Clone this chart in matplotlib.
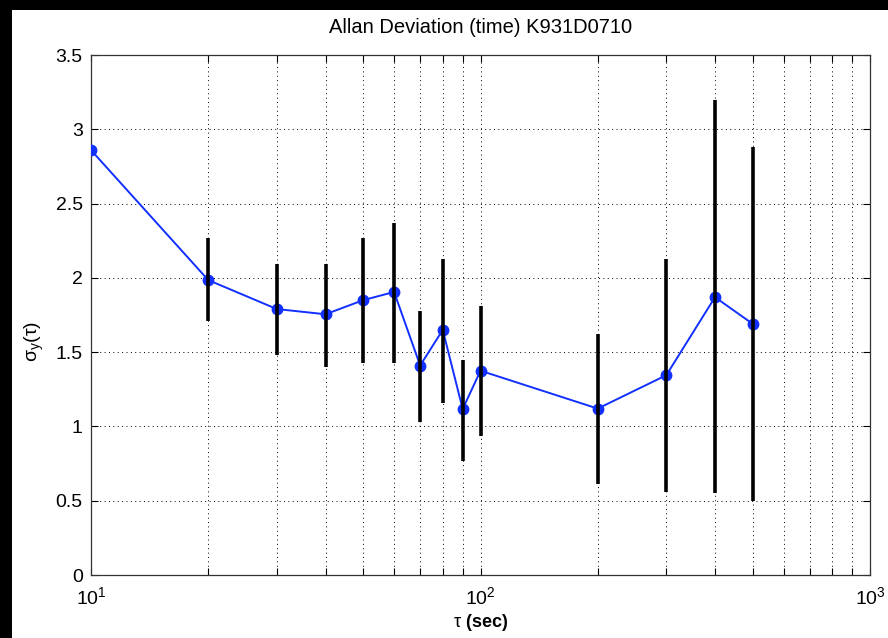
"""Allan deviation plot with error bars (log x axis)"""
import matplotlib
matplotlib.use("Agg")
from matplotlib import pyplot as plt
from matplotlib.patches import Rectangle

plt.rcParams["font.family"] = ["Liberation Sans", "DejaVu Sans"]
plt.rcParams["mathtext.fontset"] = "custom"
plt.rcParams["mathtext.rm"] = "Liberation Sans"
plt.rcParams["mathtext.it"] = "Liberation Sans:italic"

tau = [10, 20, 30, 40, 50, 60, 70, 80, 90, 100, 200, 300, 400, 500]
adev = [2.86, 1.985, 1.79, 1.755, 1.85, 1.905, 1.41, 1.65, 1.117, 1.375,
        1.12, 1.345, 1.87, 1.69]

# error bars (no bar for tau = 10)
err_tau = tau[1:]
err_hi = [2.27, 2.09, 2.09, 2.27, 2.37, 1.78, 2.13, 1.45, 1.81,
          1.62, 2.13, 3.2, 2.88]
err_lo = [1.71, 1.48, 1.40, 1.43, 1.43, 1.03, 1.16, 0.77, 0.935,
          0.61, 0.56, 0.55, 0.50]

fig = plt.figure(figsize=(8.88, 6.38), dpi=100)
fig.patch.set_facecolor("white")
# black strips on the top and left edge
fig.patches.append(Rectangle((0, 1 - 10 / 638), 1, 10 / 638, transform=fig.transFigure,
                             facecolor="black", edgecolor="none", zorder=0))
fig.patches.append(Rectangle((0, 0), 12 / 888, 1, transform=fig.transFigure,
                             facecolor="black", edgecolor="none", zorder=0))

ax = fig.add_axes([91 / 888, 1 - 575 / 638, (870 - 91) / 888, (575 - 55) / 638])

ax.plot(tau, adev, "-o", color="#1230ff", lw=1.4, ms=7.5, zorder=3)
ax.vlines(err_tau, err_lo, err_hi, color="black", lw=2.6, zorder=4)

ax.set_xscale("log")
ax.set_xlim(10, 1000)
ax.set_ylim(0, 3.5)
ax.set_yticks([0, 0.5, 1, 1.5, 2, 2.5, 3, 3.5])
ax.set_yticklabels(["0", "0.5", "1", "1.5", "2", "2.5", "3", "3.5"])

ax.grid(True, which="major", ls=(0, (1, 3.5)), color="black", lw=0.7)
ax.grid(True, which="minor", axis="x", ls=(0, (1, 3.5)), color="black", lw=0.7)

ax.tick_params(which="both", direction="in", top=True, right=True,
               labelsize=14, length=5, width=0.8, colors="black")
ax.tick_params(which="major", pad=6)
ax.tick_params(axis="x", which="major", pad=8)
for s in ax.spines.values():
    s.set_color("#333333")
    s.set_linewidth(0.9)

ax.set_title("Allan Deviation (time) K931D0710", fontsize=14.5, pad=16)
ax.set_xlabel(r"$\mathrm{\tau}$ (sec)", fontsize=13, fontweight="bold", labelpad=3)
ax.set_ylabel(r"$\mathrm{\sigma_y(\tau)}$", fontsize=14)
ax.yaxis.set_label_coords(-0.058, 0.45)

fig.savefig("out.png", dpi=100, facecolor=fig.get_facecolor())
